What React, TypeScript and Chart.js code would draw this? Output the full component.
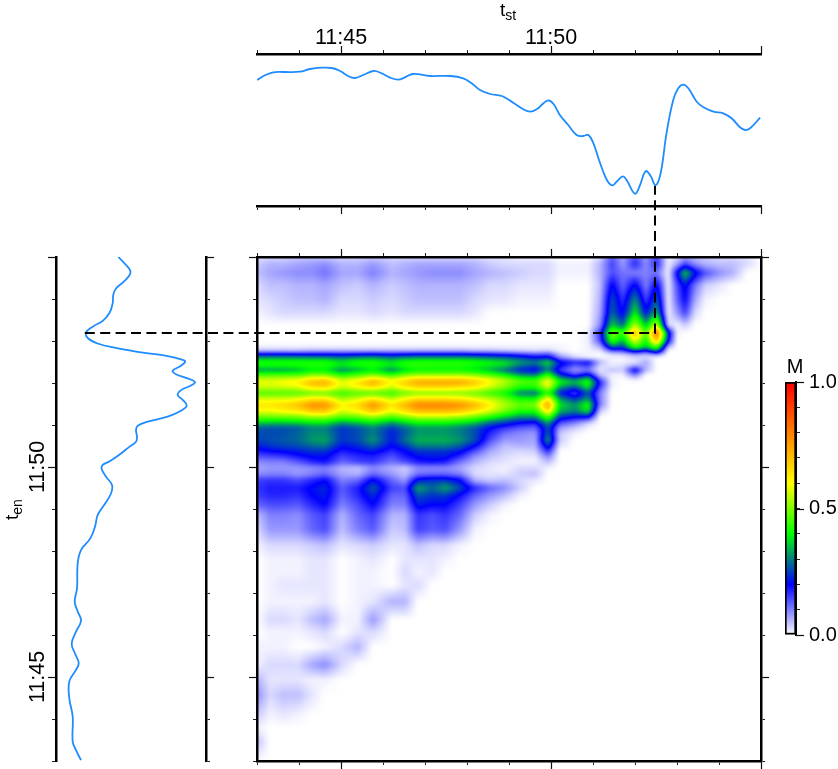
import React, { useEffect, useRef } from "react";
import { Chart, registerables } from "chart.js";
Chart.register(...registerables);

const FONT = "'Liberation Sans', Arial, sans-serif";
const tickValues = [45, 50];
const tickLabels = ["11:45", "11:50"];
const colourStops = [0, 0.2, 0.4, 0.6, 1];
const colourRgb = [[255, 255, 255], [0, 0, 255], [0, 255, 0], [255, 255, 0], [255, 0, 0]];

const tstTimes = [43.0,43.19,43.39,43.63,44.02,44.26,44.54,44.78,44.98,45.17,45.33,45.53,45.77,45.97,46.17,46.37,46.52,46.72,47.12,47.6,47.91,48.11,48.31,48.55,48.83,49.1,49.34,49.5,49.66,49.82,49.94,50.06,50.21,50.41,50.61,50.77,50.89,51.01,51.17,51.33,51.46,51.56,51.71,51.8,52.0,52.12,52.25,52.36,52.49,52.61,52.75,52.91,53.03,53.15,53.27,53.47,53.63,53.87,54.1,54.3,54.5,54.62,54.74,54.98];
const tstProfile = [126,130.7,133.7,134,134.3,137,138.3,138,135,130,128,131,135,132.7,128.3,126.3,128.7,132,130,130,127.7,122.7,116,112,110,103.3,96.7,94.3,96.7,102.7,105.7,102,91,81,71,70,71,62.7,42.7,26,20.7,24.3,29.7,26,12.3,21,34.7,31,20.7,32.7,72.7,106,117.7,121.3,117.7,104.3,98.7,94.3,92.7,87.7,78.7,76,77.7,88.3];

const tenTimes = [55.0,54.81,54.67,54.56,54.39,54.25,54.1,53.9,53.66,53.48,53.34,53.2,53.06,52.94,52.84,52.73,52.64,52.55,52.51,52.41,52.29,52.21,52.11,52.02,51.94,51.83,51.71,51.6,51.46,51.34,51.2,51.08,50.98,50.88,50.72,50.6,50.48,50.29,50.13,50.05,49.95,49.77,49.57,49.37,49.1,48.86,48.58,48.3,48.02,47.71,47.11,46.79,46.56,46.34,46.08,45.79,45.56,45.33,45.17,44.89,44.49,44.06,43.46,43.26,43.02];
const tenProfile = [62.3,70,74.3,73.3,66.7,60,57.3,56.7,53.3,46.7,36.7,30,32.3,41.7,58.3,85,111.7,126.7,129.3,125,116.7,120,131.7,139,135,125,121.7,126.7,130.7,125,111.7,91.7,81.7,80,81,80,73.3,63.3,53.3,46.7,45.7,50,56,55,48.3,41.7,39,34.3,25,21.7,21,18.7,21.7,25,20,15.7,19,22.7,20,13.3,13.3,16.7,16.7,20,25];

const cursorTst = 52.476;
const cursorTen = 53.19;
const cursorTstStart = 38.9;
const cursorTenEnd = 56.69;

const matrixTst = [43.0,43.31,43.62,43.98,44.31,44.62,45.02,45.4,45.76,46.21,46.52,46.83,47.17,47.48,47.83,48.19,48.55,48.9,49.26,49.62,49.93,50.21,50.57,50.88,51.17,51.45,51.71,52.0,52.26,52.52,52.79,53.0,53.19,53.43,53.67,54.0,54.33,54.67,55.0];
const matrixTen = [55.0,54.83,54.62,54.33,53.98,53.67,53.38,53.19,53.0,52.86,52.76,52.69,52.6,52.5,52.4,52.31,52.19,52.07,52.0,51.9,51.76,51.62,51.48,51.33,51.19,51.05,50.93,50.79,50.64,50.5,50.38,50.26,50.12,49.98,49.83,49.69,49.5,49.31,49.1,48.86,48.5,48.14,47.79,47.5,47.19,46.79,46.36,46.07,45.71,45.29,44.93,44.57,44.1,43.79,43.45,43.0];
// M values in percent; one row per t_en, columns per t_st, missing trailing cells are zero
const matrixM = [
[2,3,3,4,4,4,3,3,4,3,3,3,3,3,3,3,2,2,1,1,1,0,0,0,3,13,7,14,8,15,1,3,7,5,4,3,3,2,0],
[4,6,6,7,8,9,6,6,8,5,6,7,7,7,7,6,4,3,3,3,3,1,1,1,6,15,8,17,9,17,1,7,15,9,6,5,5,3,0],
[5,7,8,9,9,11,7,7,10,6,7,8,9,9,9,7,6,5,4,3,3,1,1,1,6,14,11,10,10,11,1,20,36,22,14,9,6,0,0],
[3,5,5,6,6,7,5,4,6,4,5,6,6,6,6,5,3,3,2,2,2,0,0,0,5,21,12,21,10,21,1,14,22,11,4,2,0],
[2,3,4,5,5,6,3,3,4,3,4,5,5,5,5,3,2,2,1,1,1,0,0,0,6,26,16,31,15,27,1,12,20,7,1,0],
[1,2,3,3,3,3,2,2,3,2,3,3,3,3,3,2,0,0,0,0,0,0,0,0,7,28,19,39,21,34,1,8,15,3,0],
[0,0,0,0,0,0,0,0,0,0,0,0,0,0,0,0,0,0,0,0,0,0,0,0,9,36,28,54,35,56,3,1,4,0],
[0,0,0,0,0,0,0,0,0,0,0,0,0,0,0,0,0,0,0,0,0,0,0,1,16,50,44,72,46,85,24,1,0],
[0,0,0,0,0,0,0,0,0,0,0,0,0,0,0,0,0,0,0,0,0,0,0,1,14,44,34,58,40,70,20,0],
[1,1,1,1,1,1,1,1,1,1,1,1,1,1,1,1,1,1,1,1,1,1,0,1,6,28,25,44,36,46,6,0],
[6,6,6,6,7,7,7,7,7,7,7,7,7,7,7,6,6,5,4,3,4,1,0,1,2,12,14,24,18,30,0],
[20,20,20,19,19,19,18,19,20,18,19,20,20,20,20,19,18,17,15,13,14,5,1,1,0,3,4,8,6,10,0],
[33,33,33,33,32,32,30,32,33,30,32,33,33,33,33,32,30,28,25,21,22,10,4,1,1,1,1,3,3,0],
[42,42,42,42,42,42,38,42,42,38,42,43,43,43,43,42,40,38,33,30,38,22,18,20,6,1,1,2,7,0],
[40,40,40,41,42,42,38,40,42,38,42,43,42,42,42,40,38,36,28,25,33,20,12,15,3,2,3,8,6,0],
[32,32,32,34,38,38,30,34,38,30,36,40,40,40,40,38,34,28,22,19,30,15,8,10,2,5,4,22,6,0],
[46,46,46,46,50,50,42,46,50,44,50,52,52,52,52,50,46,40,32,30,44,24,15,22,5,1,1,10,0],
[57,57,58,60,66,68,56,60,68,60,64,70,70,70,70,66,60,54,46,44,58,38,32,40,14,1,0,1,0],
[58,58,60,62,71,72,58,64,73,60,68,73,74,74,73,68,60,53,46,45,62,40,34,42,18,1,0,0],
[56,56,56,58,64,66,56,60,64,56,62,66,66,66,64,62,56,50,42,42,56,32,26,38,14,1,0],
[46,46,46,46,48,48,44,46,46,44,48,50,50,50,50,48,44,40,30,28,42,22,14,26,10,0],
[57,57,57,59,63,63,53,57,63,55,61,65,65,65,63,59,55,49,41,41,62,32,24,32,10,0],
[64,64,66,70,78,78,62,66,78,64,72,80,80,80,78,72,62,54,48,50,76,38,32,42,10,0],
[59,59,61,63,69,69,57,61,69,59,65,71,71,71,69,63,57,49,42,42,64,34,30,38,4,0],
[48,48,48,49,52,52,46,48,52,46,50,54,54,54,52,48,42,36,31,31,46,24,20,20,0],
[36,35,35,36,38,38,32,35,38,32,36,40,40,40,38,35,28,24,20,18,32,14,10,4,0],
[27,26,26,27,30,30,24,26,30,24,28,32,32,32,30,26,20,16,13,12,26,8,4,1,0],
[26,26,26,28,31,31,24,26,30,22,27,32,32,32,30,26,17,11,9,8,28,4,1,0],
[25,26,27,28,32,33,24,26,32,22,29,34,34,34,32,26,14,8,8,7,32,4,0],
[22,24,25,26,28,29,21,23,27,20,24,30,30,30,27,20,10,5,6,6,24,2,0],
[18,20,21,22,24,24,18,20,22,17,20,24,24,24,22,14,7,4,3,4,17,0],
[14,15,16,19,21,21,15,17,18,14,18,21,22,22,17,9,5,3,2,2,10,0],
[9,10,10,13,17,19,12,15,16,11,14,18,19,18,11,6,3,2,1,1,5,0],
[7,8,8,8,9,10,6,5,9,6,4,9,9,9,7,3,2,1,3,3,1,0],
[9,10,10,8,10,12,7,6,12,8,5,11,12,12,10,3,2,2,4,5,0],
[15,16,16,14,17,20,10,12,21,12,8,22,24,24,20,6,4,5,3,2,0],
[16,18,18,18,21,23,13,18,27,15,14,33,28,33,26,17,12,9,4,0],
[15,17,17,16,20,22,12,17,23,12,12,26,24,24,19,12,8,5,1,0],
[12,14,14,13,17,20,10,14,20,10,10,22,20,20,15,8,4,1,0],
[5,10,10,9,13,15,6,12,15,6,6,16,14,16,12,4,1,0],
[3,8,8,8,12,14,5,10,13,4,5,15,13,14,8,1,0],
[1,3,3,3,4,5,2,3,4,2,2,5,3,3,1,0],
[0,1,1,1,2,2,0,1,2,0,2,2,2,1,0],
[0,1,1,1,2,2,0,1,1,0,3,1,2,0],
[0,1,2,2,2,2,0,1,1,0,2,3,0],
[0,1,1,1,1,2,0,1,2,6,6,0],
[0,3,3,2,5,7,1,1,8,0],
[0,1,1,1,2,3,0,2,3,0],
[1,1,1,0,0,1,3,6,0],
[1,3,3,3,7,9,3,0],
[6,2,2,2,1,1,0],
[9,3,5,5,2,0],
[4,1,2,1,0],
[1,0],
[5,0],
[0],
];

const colourAt = (v: number) => {
  const x = Math.max(0, Math.min(1, v));
  let i = 0;
  while (i < colourStops.length - 2 && x > colourStops[i + 1]) i++;
  const f = (x - colourStops[i]) / (colourStops[i + 1] - colourStops[i]);
  return colourRgb[i].map((c, k) => c + (colourRgb[i + 1][k] - c) * f);
};

const locate = (list: number[], v: number) => {
  const asc = list[0] < list[list.length - 1];
  for (let i = 0; i < list.length - 1; i++) {
    const a = list[i], b = list[i + 1];
    if (asc ? v <= b : v >= b) return [i, Math.max(0, Math.min(1, (v - a) / (b - a)))];
  }
  return [list.length - 2, 1];
};

const blur = (src: Float32Array, w: number, h: number, r: number) => {
  const tmp = new Float32Array(w * h);
  const out = new Float32Array(w * h);
  for (let y = 0; y < h; y++) for (let x = 0; x < w; x++) {
    let s = 0, n = 0;
    for (let d = -r; d <= r; d++) { const q = x + d; if (q >= 0 && q < w) { s += src[y * w + q]; n++; } }
    tmp[y * w + x] = s / n;
  }
  for (let y = 0; y < h; y++) for (let x = 0; x < w; x++) {
    let s = 0, n = 0;
    for (let d = -r; d <= r; d++) { const q = y + d; if (q >= 0 && q < h) { s += tmp[q * w + x]; n++; } }
    out[y * w + x] = s / n;
  }
  return out;
};

const matrixPlugin = {
  id: "matrixField",
  beforeDraw(chart: any) {
    const { left, top, right, bottom } = chart.chartArea;
    const w = Math.round(right - left), h = Math.round(bottom - top);
    const xs = chart.scales.x, ys = chart.scales.y;
    const cols = Array.from({ length: w }, (_, i) => locate(matrixTst, xs.getValueForPixel(left + i + 0.5)));
    const rows = Array.from({ length: h }, (_, j) => locate(matrixTen, ys.getValueForPixel(top + j + 0.5)));
    let field = new Float32Array(w * h);
    const cell = (r: number, c: number) => (matrixM[r][c] || 0) / 100;
    for (let j = 0; j < h; j++) {
      const [r, fr] = rows[j];
      for (let i = 0; i < w; i++) {
        const [c, fc] = cols[i];
        field[j * w + i] =
          (cell(r, c) * (1 - fc) + cell(r, c + 1) * fc) * (1 - fr) +
          (cell(r + 1, c) * (1 - fc) + cell(r + 1, c + 1) * fc) * fr;
      }
    }
    field = blur(blur(field, w, h, 2), w, h, 1);
    const img = chart.ctx.createImageData(w, h);
    for (let p = 0; p < w * h; p++) {
      const rgb = colourAt(field[p]);
      img.data[p * 4] = rgb[0]; img.data[p * 4 + 1] = rgb[1]; img.data[p * 4 + 2] = rgb[2]; img.data[p * 4 + 3] = 255;
    }
    chart.ctx.putImageData(img, Math.round(left), Math.round(top));
  },
};

const majorPlugin = {
  id: "majorTicks",
  afterDraw(chart: any, _a: any, opts: any) {
    const ctx = chart.ctx;
    ctx.save();
    ctx.strokeStyle = "#111";
    ctx.lineWidth = 1.2;
    Object.values(chart.scales).forEach((s: any) => {
      if (!s.options.display || s.type !== "linear") return;
      s.ticks.forEach((t: any) => {
        const v = t.value / opts.step;
        if (Math.abs(v - Math.round(v)) > 1e-6) return;
        const p = Math.round(s.getPixelForValue(t.value)) + 0.5;
        ctx.beginPath();
        const len = 8;
        if (s.position === "top") { ctx.moveTo(p, s.bottom); ctx.lineTo(p, s.bottom - len); }
        if (s.position === "bottom") { ctx.moveTo(p, s.top); ctx.lineTo(p, s.top + len); }
        if (s.position === "left") { ctx.moveTo(s.right, p); ctx.lineTo(s.right - len, p); }
        if (s.position === "right") { ctx.moveTo(s.left, p); ctx.lineTo(s.left + len, p); }
        ctx.stroke();
      });
    });
    ctx.restore();
  },
};

const subLabel = (ctx: any, main: string, sub: string, x: number, y: number, rot: number) => {
  ctx.save();
  ctx.translate(x, y);
  ctx.rotate(rot);
  ctx.fillStyle = "#000";
  ctx.textBaseline = "alphabetic";
  ctx.textAlign = "left";
  ctx.font = `19px ${FONT}`;
  ctx.fillText(main, 0, 0);
  const w = ctx.measureText(main).width;
  ctx.font = `14px ${FONT}`;
  ctx.fillText(sub, w, 4);
  ctx.restore();
};

const labelPlugin = {
  id: "axisNames",
  afterDraw(chart: any, _a: any, opts: any) {
    if (opts.name === "st") subLabel(chart.ctx, "t", "st", 500, 16, 0);
    if (opts.name === "en") subLabel(chart.ctx, "t", "en", 18, 520, -Math.PI / 2);
    if (opts.name === "M") {
      const ctx = chart.ctx;
      ctx.save();
      ctx.font = `20px ${FONT}`;
      ctx.fillStyle = "#000";
      ctx.textAlign = "center";
      ctx.textBaseline = "alphabetic";
      ctx.fillText("M", 795, 373);
      ctx.restore();
    }
  },
};

const timeAxis = (position: string, size: number, labelled = false, extra: any = {}) => ({
  type: "linear",
  position,
  min: 43,
  max: 55,
  afterFit(s: any) {
    if (position === "top" || position === "bottom") s.height = size; else s.width = size;
  },
  ticks: {
    display: labelled,
    stepSize: 1,
    autoSkip: false,
    maxRotation: 0,
    color: "#000",
    font: { family: FONT, size: 21.5 },
    callback: (v: number) => {
      const i = tickValues.indexOf(v);
      return i >= 0 ? tickLabels[i] : "";
    },
    ...extra,
  },
  grid: { drawOnChartArea: false, drawTicks: true, tickLength: 4, tickColor: "#222", tickWidth: 1 },
  border: { display: true, color: "#000", width: 2.5 },
});

const base = (padding: any, plugins: any) => ({
  responsive: false,
  animation: false,
  maintainAspectRatio: false,
  events: [],
  layout: { padding },
  plugins: { legend: { display: false }, tooltip: { enabled: false }, ...plugins },
});

const hidden = (min: number, max: number) => ({ type: "linear", display: false, min, max });

export default function App() {
  const topRef = useRef<HTMLCanvasElement>(null);
  const leftRef = useRef<HTMLCanvasElement>(null);
  const heatRef = useRef<HTMLCanvasElement>(null);
  const barRef = useRef<HTMLCanvasElement>(null);

  useEffect(() => {
    const lineStyle = { borderColor: "#1e8cff", borderWidth: 1.8, pointRadius: 0, tension: 0.4, showLine: true, fill: false };
    const charts: any[] = [];

    charts.push(new Chart(topRef.current as any, {
      type: "scatter",
      data: { datasets: [{ data: tstTimes.map((x, i) => ({ x, y: tstProfile[i] })), ...lineStyle }] },
      options: {
        ...base({ left: 257, right: 77, top: 0, bottom: 553 }, { majorTicks: { step: 5 }, axisNames: { name: "st" } }),
        scales: {
          x: timeAxis("top", 54, true, { padding: -1 }),
          xb: timeAxis("bottom", 10),
          y: hidden(0, 152),
        },
      },
      plugins: [majorPlugin, labelPlugin],
    } as any));

    charts.push(new Chart(leftRef.current as any, {
      type: "scatter",
      data: { datasets: [{ data: tenTimes.map((y, i) => ({ x: tenProfile[i], y })), ...lineStyle }] },
      options: {
        ...base({ left: 0, right: 622, top: 257, bottom: 8 }, { majorTicks: { step: 5 }, axisNames: { name: "en" } }),
        scales: {
          x: hidden(0, 150),
          y: timeAxis("left", 56, true, { minRotation: 90, maxRotation: 90, crossAlign: "center", padding: -12 }),
          yr: timeAxis("right", 10),
        },
      },
      plugins: [majorPlugin, labelPlugin],
    } as any));

    const cells: any[] = [];
    matrixM.forEach((row, r) => row.forEach((v, c) => cells.push({ x: matrixTst[c], y: matrixTen[r], m: v / 100 })));
    charts.push(new Chart(heatRef.current as any, {
      type: "scatter",
      data: {
        datasets: [
          { data: [{ x: cursorTstStart, y: cursorTen }, { x: cursorTst, y: cursorTen }, { x: cursorTst, y: cursorTenEnd }],
            showLine: true, borderColor: "#000", borderWidth: 2, borderDash: [10, 5.4], pointRadius: 0, clip: false, tension: 0 },
          { data: cells, pointRadius: 0, showLine: false },
        ],
      },
      options: {
        ...base({ left: 247, right: 67, top: 247, bottom: 0 }, { majorTicks: { step: 5 } }),
        scales: {
          x: timeAxis("bottom", 8),
          xt: timeAxis("top", 10),
          y: timeAxis("left", 10),
          yr: timeAxis("right", 10),
        },
      },
      plugins: [matrixPlugin, majorPlugin],
    } as any));

    charts.push(new Chart(barRef.current as any, {
      type: "bar",
      data: {
        labels: ["M"],
        datasets: [{
          data: [1],
          barPercentage: 1,
          categoryPercentage: 1,
          borderColor: "#000",
          borderWidth: 2,
          borderSkipped: false,
          backgroundColor: (c: any) => {
            const s = c.chart.scales.y;
            const y0 = s ? s.getPixelForValue(0) : NaN;
            const y1 = s ? s.getPixelForValue(1) : NaN;
            if (!Number.isFinite(y0) || !Number.isFinite(y1)) return "#fff";
            const g = c.chart.ctx.createLinearGradient(0, y0, 0, y1);
            colourStops.forEach((p, i) => g.addColorStop(p, `rgb(${colourRgb[i].join(",")})`));
            return g;
          },
        }],
      },
      options: {
        ...base({ left: 785, right: 0, top: 382, bottom: 134 }, { majorTicks: { step: 0.5 }, axisNames: { name: "M" } }),
        scales: {
          x: { type: "category", display: false },
          y: {
            type: "linear",
            position: "right",
            min: 0,
            max: 1,
            afterFit(s: any) { s.width = 42; },
            ticks: {
              stepSize: 0.1,
              autoSkip: false,
              padding: 9,
              color: "#000",
              font: { family: FONT, size: 20 },
              callback: (v: number) => (Math.abs(v * 2 - Math.round(v * 2)) < 1e-6 ? v.toFixed(1) : ""),
            },
            grid: { drawOnChartArea: false, tickLength: 4, tickColor: "#222", tickWidth: 1 },
            border: { display: true, color: "#000", width: 2 },
          },
        },
      },
      plugins: [majorPlugin, labelPlugin],
    } as any));

    return () => charts.forEach((c) => c.destroy());
  }, []);

  const style: React.CSSProperties = { position: "absolute", left: 0, top: 0, pointerEvents: "none" };
  return (
    <div style={{ position: "absolute", left: 0, top: 0, width: 838, height: 769, overflow: "hidden" }}>
      <canvas ref={topRef} width={838} height={769} style={style} />
      <canvas ref={leftRef} width={838} height={769} style={style} />
      <canvas ref={barRef} width={838} height={769} style={style} />
      <canvas ref={heatRef} width={838} height={769} style={style} />
    </div>
  );
}
